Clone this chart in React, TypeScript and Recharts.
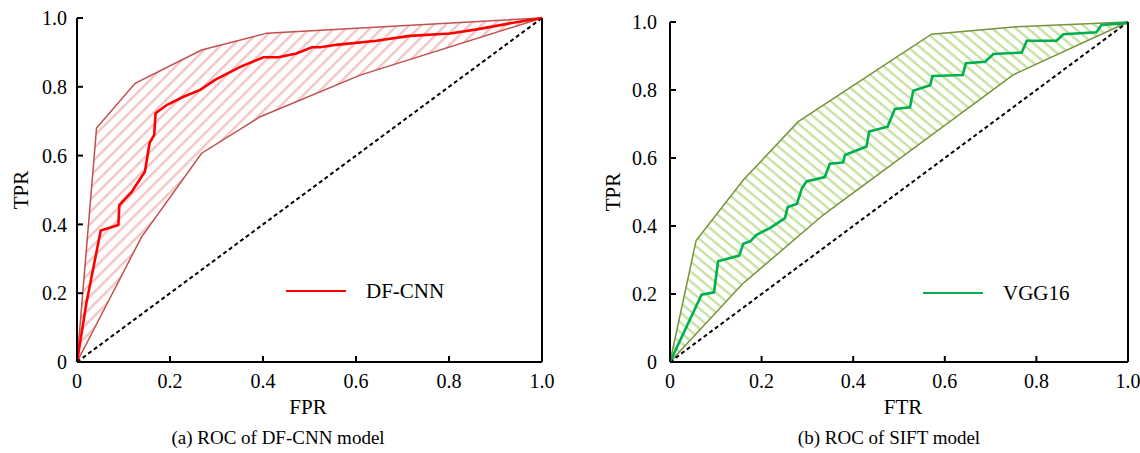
import { ComposedChart, Area, Line, XAxis, YAxis } from "recharts";

type Pt = [number, number];

// axis ticks shared by both panels
const TICKS = [0, 0.2, 0.4, 0.6, 0.8, 1];
const CHANCE: Pt[] = [
  [0, 0],
  [1, 1],
];

// (a) DF-CNN
const DFCNN_UPPER: Pt[] = [
  [0, 0], [0.042, 0.68], [0.125, 0.81], [0.268, 0.907], [0.408, 0.956], [1, 1],
];
const DFCNN_LOWER: Pt[] = [
  [0, 0], [0.139, 0.364], [0.268, 0.607], [0.394, 0.713], [0.609, 0.834], [1, 1],
];
const DFCNN_ROC: Pt[] = [
  [0, 0], [0.02, 0.17], [0.051, 0.382], [0.089, 0.398], [0.091, 0.456],
  [0.118, 0.495], [0.125, 0.51], [0.146, 0.553], [0.156, 0.636], [0.166, 0.66],
  [0.169, 0.723], [0.193, 0.747], [0.229, 0.771], [0.265, 0.791], [0.297, 0.82],
  [0.351, 0.858], [0.401, 0.886], [0.433, 0.886], [0.472, 0.897], [0.505, 0.915],
  [0.523, 0.915], [0.558, 0.922], [0.644, 0.934], [0.716, 0.948], [0.802, 0.955],
  [0.86, 0.967], [0.938, 0.986], [1, 1],
];

// (b) SIFT / VGG16
const VGG_UPPER: Pt[] = [
  [0, 0], [0.057, 0.357], [0.16, 0.535], [0.28, 0.707], [0.571, 0.964], [0.757, 0.986], [1, 1],
];
const VGG_LOWER: Pt[] = [
  [0, 0], [0.157, 0.228], [0.335, 0.433], [0.75, 0.845], [1, 1],
];
const VGG_ROC: Pt[] = [
  [0, 0], [0.069, 0.198], [0.096, 0.205], [0.105, 0.296], [0.151, 0.313],
  [0.16, 0.348], [0.175, 0.355], [0.189, 0.374], [0.218, 0.394], [0.251, 0.423],
  [0.257, 0.456], [0.277, 0.465], [0.288, 0.511], [0.298, 0.531], [0.338, 0.544],
  [0.349, 0.583], [0.378, 0.587], [0.382, 0.609], [0.429, 0.634], [0.435, 0.678],
  [0.475, 0.692], [0.491, 0.744], [0.524, 0.749], [0.531, 0.798], [0.568, 0.814],
  [0.573, 0.841], [0.639, 0.844], [0.646, 0.879], [0.688, 0.883], [0.706, 0.906],
  [0.768, 0.91], [0.779, 0.945], [0.844, 0.945], [0.859, 0.964], [0.931, 0.97],
  [0.942, 0.991], [0.99, 0.996], [1, 1],
];

const FONT = '"Liberation Serif", "Times New Roman", Times, serif';
const toRows = (pts: Pt[]) => pts.map(([x, y]) => ({ x, y }));
const fmt = (v: number) => (v === 0 ? "0" : v.toFixed(1));
const tickStyle = { fill: "#000", fontSize: 20, fontFamily: FONT };
const axisStroke = { stroke: "#000", strokeWidth: 2 };

interface PanelProps {
  id: string;
  left: number;
  margin: { top: number; right: number; bottom: number; left: number };
  yTickMargin: number;
  upper: Pt[];
  lower: Pt[];
  roc: Pt[];
  bandColor: string;
  hatchColor: string;
  hatchAngle: number;
  hatchGap: number;
  lineColor: string;
  name: string;
  legendLeft: number;
  legendTop: number;
}

function RocPanel(p: PanelProps) {
  const hatch = `hatch-${p.id}`;
  return (
    <div style={{ position: "absolute", left: p.left, top: 0, width: 570, height: 453 }}>
      <ComposedChart width={570} height={453} margin={p.margin}>
        <defs>
          <pattern
            id={hatch}
            patternUnits="userSpaceOnUse"
            width={10}
            height={p.hatchGap}
            patternTransform={`rotate(${p.hatchAngle})`}
          >
            <rect x={0} y={0} width={10} height={2.4} fill={p.hatchColor} />
          </pattern>
        </defs>
        <Area
          data={toRows(p.upper)}
          dataKey="y"
          type="linear"
          stroke={p.bandColor}
          strokeWidth={1.5}
          fill={`url(#${hatch})`}
          fillOpacity={1}
          isAnimationActive={false}
        />
        {/* white area hides the hatching under the lower bound */}
        <Area
          data={toRows(p.lower)}
          dataKey="y"
          type="linear"
          stroke={p.bandColor}
          strokeWidth={1.5}
          fill="#fff"
          fillOpacity={1}
          isAnimationActive={false}
        />
        <Line
          data={toRows(CHANCE)}
          dataKey="y"
          type="linear"
          stroke="#000"
          strokeWidth={2}
          strokeDasharray="4 3"
          dot={false}
          activeDot={false}
          isAnimationActive={false}
        />
        <Line
          data={toRows(p.roc)}
          dataKey="y"
          type="linear"
          stroke={p.lineColor}
          strokeWidth={2.6}
          dot={false}
          activeDot={false}
          isAnimationActive={false}
        />
        <XAxis
          dataKey="x"
          type="number"
          domain={[0, 1]}
          ticks={TICKS}
          tickFormatter={fmt}
          height={30}
          tickSize={-6}
          tickMargin={18}
          axisLine={axisStroke}
          tickLine={axisStroke}
          tick={tickStyle}
          interval={0}
        />
        <YAxis
          type="number"
          domain={[0, 1]}
          ticks={TICKS}
          tickFormatter={fmt}
          width={50}
          tickSize={-6}
          tickMargin={p.yTickMargin}
          axisLine={axisStroke}
          tickLine={axisStroke}
          tick={tickStyle}
          interval={0}
        />
        <YAxis
          yAxisId="right"
          orientation="right"
          type="number"
          domain={[0, 1]}
          ticks={TICKS}
          tickFormatter={() => ""}
          width={10}
          tickSize={-6}
          axisLine={axisStroke}
          tickLine={axisStroke}
          interval={0}
        />
      </ComposedChart>
      <div
        style={{
          position: "absolute",
          left: p.legendLeft,
          top: p.legendTop,
          display: "flex",
          alignItems: "center",
          fontFamily: FONT,
          fontSize: 21,
          lineHeight: "24px",
        }}
      >
        <span style={{ display: "inline-block", width: 60, height: 2, background: p.lineColor, marginRight: 20 }} />
        <span>{p.name}</span>
      </div>
    </div>
  );
}

function Label({ x, y, text, rotate, size = 21 }: { x: number; y: number; text: string; rotate?: boolean; size?: number }) {
  return (
    <div
      style={{
        position: "absolute",
        left: x,
        top: y,
        transform: `translate(-50%, -50%)${rotate ? " rotate(-90deg)" : ""}`,
        fontFamily: FONT,
        fontSize: size,
        lineHeight: 1,
        whiteSpace: "nowrap",
        color: "#000",
      }}
    >
      {text}
    </div>
  );
}

export default function App() {
  return (
    <div style={{ position: "absolute", left: 0, top: 0, width: 1140, height: 453, background: "#fff" }}>
      <RocPanel
        id="a"
        left={0}
        margin={{ top: 18, right: 18, bottom: 61, left: 27 }}
        yTickMargin={16}
        upper={DFCNN_UPPER}
        lower={DFCNN_LOWER}
        roc={DFCNN_ROC}
        bandColor="#c0504d"
        hatchColor="#f2c4c4"
        hatchAngle={-45}
        hatchGap={8.5}
        lineColor="#ff0000"
        name="DF-CNN"
        legendLeft={286}
        legendTop={279}
      />
      <RocPanel
        id="b"
        left={570}
        margin={{ top: 22, right: 2, bottom: 61, left: 50 }}
        yTickMargin={19}
        upper={VGG_UPPER}
        lower={VGG_LOWER}
        roc={VGG_ROC}
        bandColor="#77933c"
        hatchColor="#c6e2a2"
        hatchAngle={40}
        hatchGap={7.6}
        lineColor="#00b050"
        name="VGG16"
        legendLeft={353}
        legendTop={281}
      />
      <Label x={21} y={190} text="TPR" rotate />
      <Label x={613} y={192} text="TPR" rotate />
      <Label x={308} y={407} text="FPR" />
      <Label x={903} y={407} text="FTR" />
      <Label x={278} y={437} text="(a) ROC of DF-CNN model" size={19} />
      <Label x={889} y={437} text="(b) ROC of SIFT model" size={19} />
    </div>
  );
}
